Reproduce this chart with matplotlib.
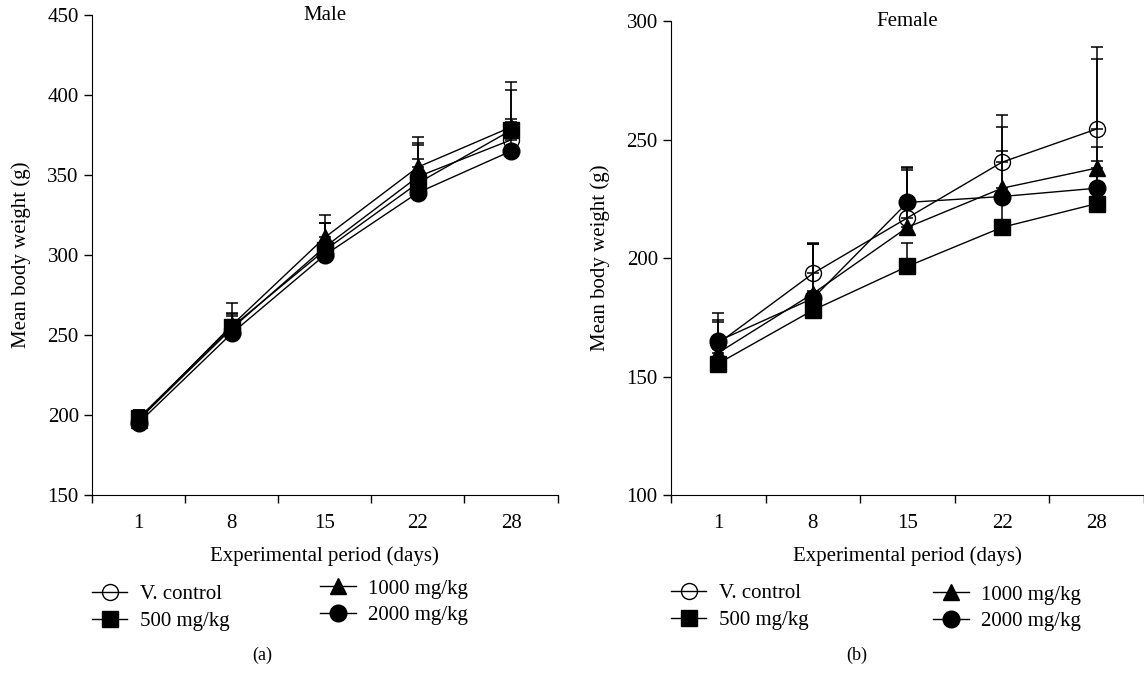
import matplotlib
matplotlib.use("Agg")
import matplotlib.pyplot as plt
import numpy as np

plt.rcParams['font.family'] = ['Liberation Serif', 'DejaVu Serif']
plt.rcParams['font.size'] = 15

days = ['1', '8', '15', '22', '28']
groups = ['V. control', '500 mg/kg', '1000 mg/kg', '2000 mg/kg']

# male body weight (g) and upper SD
male_control = [197, 254, 305, 349, 372]
male_500 = [198, 255, 303, 345, 378]
male_1000 = [197, 256, 311, 355, 380]
male_2000 = [195, 251, 300, 339, 365]
male_control_sd = [6, 10, 15, 20, 31]
male_500_sd = [5, 8, 17, 25, 30]
male_1000_sd = [5, 14, 14, 19, 5]
male_2000_sd = [6, 11, 20, 21, 18]

# female body weight (g) and upper SD
female_control = [164, 193.5, 217, 240.5, 254.5]
female_500 = [155.5, 178, 196.5, 213, 223]
female_1000 = [160, 185, 213, 229.5, 238]
female_2000 = [165, 183, 223.5, 226, 229.5]
female_control_sd = [13, 13, 21, 20, 34.5]
female_500_sd = [6, 8, 10, 12, 18]
female_1000_sd = [14, 21, 24, 26, 46]
female_2000_sd = [8, 23, 15, 19, 17.5]

styles = [dict(marker='o', mfc='none', ms=11.5),
          dict(marker='s', mfc='black', ms=12),
          dict(marker='^', mfc='black', ms=12),
          dict(marker='o', mfc='black', ms=12)]


def draw_panel(ax, series, sds, ylim, yticks, title, col2_x, col2_y):
    x = np.arange(len(days))
    handles = []
    for vals, sd, st, name in zip(series, sds, styles, groups):
        vals = np.array(vals)
        sd = np.array(sd)
        ax.errorbar(x, vals, yerr=[np.zeros_like(sd), sd], fmt='none',
                    ecolor='black', elinewidth=1.1, capsize=4, capthick=1.1)
        h, = ax.plot(x, vals, color='black', lw=1.0, mec='black', mew=1.0,
                     label=name, **st)
        handles.append(h)
    ax.set_xlim(-0.5, 4.5)
    ax.set_ylim(*ylim)
    ax.set_yticks(yticks)
    ax.set_xticks(x)
    ax.set_xticklabels(days)
    ax.set_xticks(np.arange(-0.5, 5.0, 1.0), minor=True)
    ax.tick_params(axis='x', which='major', length=0, pad=14)
    ax.tick_params(axis='x', which='minor', length=6, direction='out', width=1)
    ax.tick_params(axis='y', length=6, direction='out', width=1)
    ax.spines['top'].set_visible(False)
    ax.spines['right'].set_visible(False)
    ax.set_xlabel('Experimental period (days)', labelpad=9)
    ax.set_ylabel('Mean body weight (g)', labelpad=12)
    ax.text(0.5, 1.0, title, transform=ax.transAxes, ha='center', va='center')
    opts = dict(frameon=False, handlelength=1.7, labelspacing=0.35,
                handletextpad=0.6, borderaxespad=0, borderpad=0, fontsize=15)
    leg1 = ax.legend(handles=handles[:2], loc='upper left',
                     bbox_to_anchor=(0.0, -0.187), **opts)
    ax.add_artist(leg1)
    ax.legend(handles=handles[2:], loc='upper left',
              bbox_to_anchor=(col2_x, col2_y), **opts)


fig = plt.figure(figsize=(11.44, 6.73), dpi=100)
ax1 = fig.add_axes([0.0804, 0.2645, 0.407, 0.713])
ax2 = fig.add_axes([0.5865, 0.2645, 0.4135, 0.704])

draw_panel(ax1, [male_control, male_500, male_1000, male_2000],
           [male_control_sd, male_500_sd, male_1000_sd, male_2000_sd],
           (150, 450), np.arange(150, 451, 50), 'Male', 0.49, -0.175)
draw_panel(ax2, [female_control, female_500, female_1000, female_2000],
           [female_control_sd, female_500_sd, female_1000_sd, female_2000_sd],
           (100, 300), np.arange(100, 301, 50), 'Female', 0.555, -0.19)

fig.text(262 / 1144, 1 - 655 / 673, '(a)', ha='center', va='center', fontsize=13)
fig.text(857 / 1144, 1 - 655 / 673, '(b)', ha='center', va='center', fontsize=13)

fig.savefig('out.png', dpi=100)
